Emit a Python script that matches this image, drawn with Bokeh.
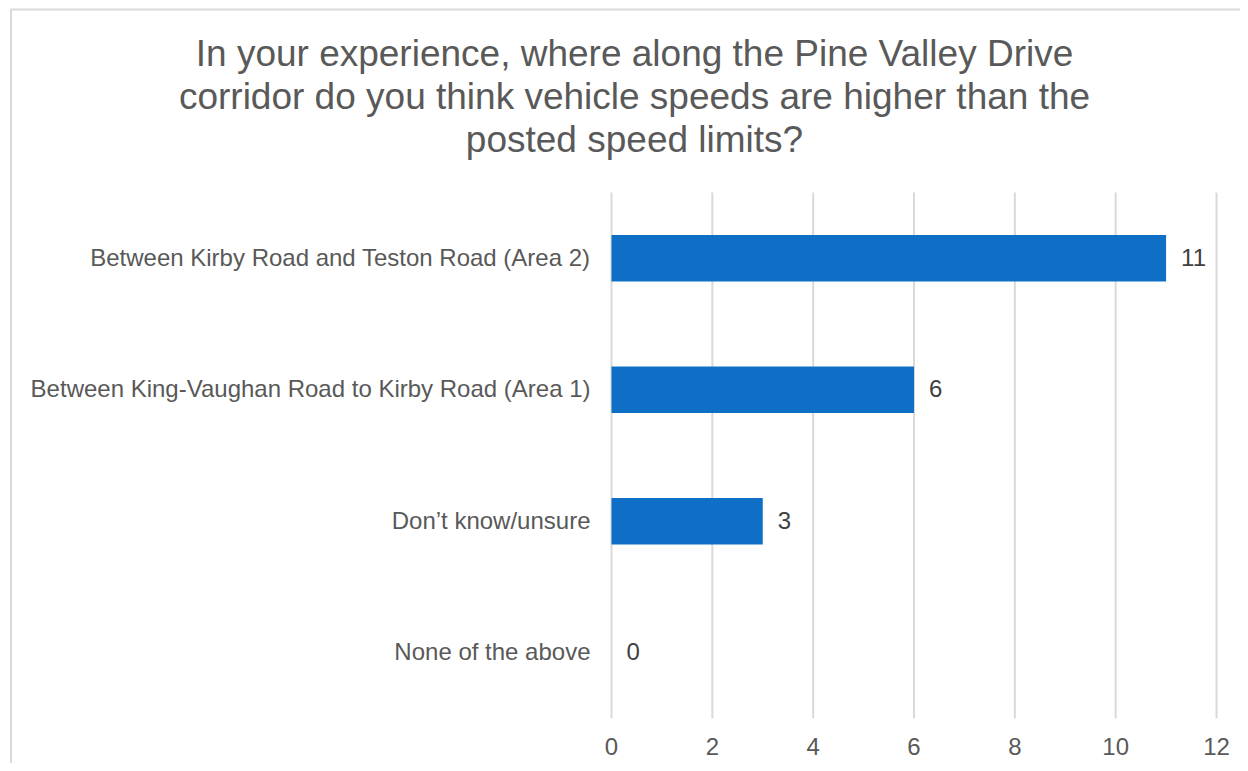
from bokeh.plotting import figure
from bokeh.models import Range1d, ColumnDataSource
from bokeh.core.properties import value
from bokeh.embed import file_html
from bokeh.resources import INLINE

# ---- data (bottom-to-top order) ----
categories = [
    "None of the above",
    "Don\u2019t know/unsure",
    "Between King-Vaughan Road to Kirby Road (Area 1)",
    "Between Kirby Road and Teston Road (Area 2)",
]
counts = [0, 3, 6, 11]
x_ticks = [0, 2, 4, 6, 8, 10, 12]
title_lines = [
    "In your experience, where along the Pine Valley Drive",
    "corridor do you think vehicle speeds are higher than the",
    "posted speed limits?",
]

# ---- layout (pixels) ----
W, H = 1240, 763
PX_X0, PX_X12 = 611, 1216      # x = 0 and x = 12
PX_YTOP, PX_YBOT = 192, 718    # top / bottom of category band
XMAX = 12
NCAT = len(categories)
ppx = (PX_X12 - PX_X0) / XMAX
ppy = (PX_YBOT - PX_YTOP) / NCAT

def px2x(px):
    return (px - PX_X0) / ppx

def px2y(py):
    return NCAT - (py - PX_YTOP) / ppy

FONT = "Liberation Sans"
GRAY = "#595959"
DARK = "#404040"
GRID = "#D9D9D9"
BAR = "#0F6FC6"

p = figure(
    width=W, height=H,
    x_range=Range1d(px2x(0), px2x(W)),
    y_range=Range1d(px2y(H), px2y(0)),
    x_axis_location=None, y_axis_location=None,
    output_backend="svg", toolbar_location=None,
    min_border=0,
)
p.outline_line_color = None
p.grid.visible = False
p.background_fill_color = "white"
p.border_fill_color = "white"

# chart border (top and left visible)
p.segment(x0=[px2x(10.5), px2x(10)], y0=[px2y(H), px2y(9)],
          x1=[px2x(10.5), px2x(W)], y1=[px2y(9), px2y(9)],
          line_color=GRID, line_width=2)

# vertical gridlines
p.segment(x0=x_ticks, x1=x_ticks, y0=[0] * len(x_ticks), y1=[NCAT] * len(x_ticks),
          line_color=GRID, line_width=2)

ypos = [i + 0.5 for i in range(NCAT)]
src = ColumnDataSource(dict(y=ypos, val=counts, cat=categories,
                            lab=[str(v) for v in counts], zero=[0] * NCAT))

# bars
p.hbar(y="y", left="zero", right="val", height=0.355, source=src,
       fill_color=BAR, line_color=None)

# value labels
p.text(x="val", y="y", text="lab", source=src, x_offset=15, y_offset=-1,
       text_baseline="alphabetic", text_align="left",
       text_font=value(FONT), text_font_size="24px", text_color=DARK)

# category labels
p.text(x="zero", y="y", text="cat", source=src, x_offset=-21, y_offset=-1,
       text_baseline="alphabetic", text_align="right",
       text_font=value(FONT), text_font_size="24px", text_color=GRAY)

# x tick labels
p.text(x=x_ticks, y=[0] * len(x_ticks), text=[str(t) for t in x_ticks],
       y_offset=28, text_baseline="alphabetic", text_align="center",
       text_font=value(FONT), text_font_size="24px", text_color=GRAY)

# title
title_offsets = [-139, -96, -53]
p.text(x=[0] * len(title_lines), y=[NCAT] * len(title_lines), text=title_lines,
       x_offset=23, y_offset=title_offsets,
       text_baseline="alphabetic", text_align="center",
       text_font=value(FONT), text_font_size="37px", text_color=GRAY)

open("out.html", "w").write(file_html(p, INLINE))
